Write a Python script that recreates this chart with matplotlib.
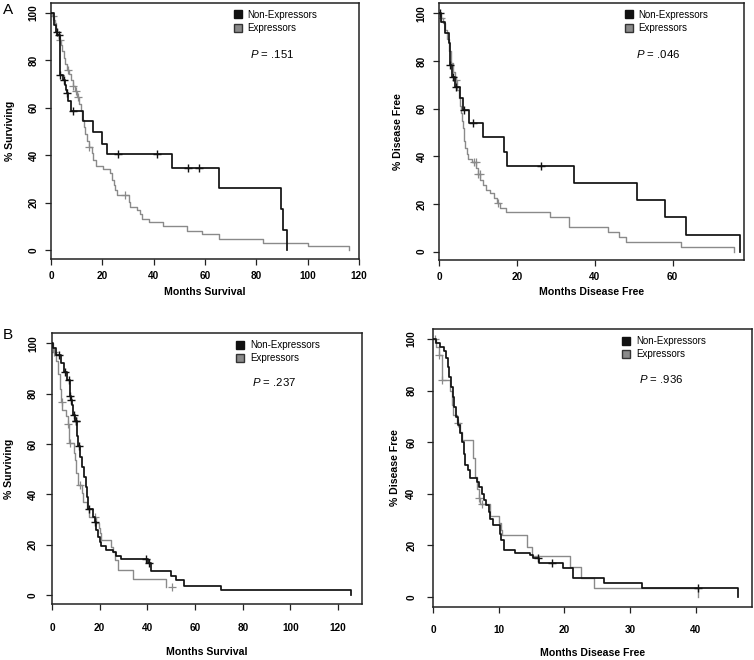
import numpy as np
import matplotlib
matplotlib.use('Agg')
import matplotlib.pyplot as plt
from matplotlib.lines import Line2D

plt.rcParams['font.family'] = ['Liberation Sans', 'DejaVu Sans']
plt.rcParams['mathtext.fontset'] = 'custom'
plt.rcParams['mathtext.rm'] = 'Liberation Sans'
plt.rcParams['mathtext.it'] = 'Liberation Sans:italic'

# ---------------- data ----------------
series_labels = ["Non-Expressors", "Expressors"]
y_ticks = [0, 20, 40, 60, 80, 100]

# Panel A, overall survival
a_os_non_t = [0, 1.0, 1.8, 2.5, 3.4, 4.8, 5.5, 5.9, 6.2, 6.8, 7.8, 12.6, 16.3, 20.0, 22.0, 47.1, 65.4, 89.7, 90.5, 91.9]
a_os_non_s = [100, 95, 92, 90.6, 73.8, 71.7, 69.6, 67.5, 66.3, 63.0, 58.8, 54.5, 49.7, 44.7, 40.5, 34.8, 26.1, 17.4, 8.5, 0]
a_os_non_c = [2.2, 3.0, 3.7, 5.2, 6.3, 8.5, 26.0, 41.2, 53.3, 57.7]
a_os_exp_t = [0, 0.5, 1.0, 1.5, 2.0, 2.5, 3.0, 3.8, 4.3, 5.0, 5.6, 6.3, 7.0, 7.7, 8.5, 9.5, 10.2, 10.8, 11.5,
              12.0, 12.7, 13.3, 14.0, 14.7, 15.8, 16.5, 17.6, 20.4, 23.0, 23.7, 24.4, 25.0, 25.6, 30.2, 30.8,
              33.7, 34.5, 35.4, 38.0, 43.8, 52.9, 58.8, 65.3, 82.6, 100.0, 116.2]
a_os_exp_s = [100, 98.5, 97, 95.5, 93, 91, 88.5, 86.5, 84, 81, 78.5, 76, 74, 71.5, 69, 67, 64.5, 61.5, 58.5,
              55, 52, 49, 46, 43.5, 41, 38, 35.5, 34.3, 32.5, 29.5, 27.5, 25.3, 23.3, 20.5, 18.4,
              17.0, 15.3, 13.3, 11.7, 10.0, 8.2, 6.7, 4.9, 3.1, 1.6, 0]
a_os_exp_c = [0.8, 3.5, 6.8, 8.7, 9.7, 10.6, 14.9, 28.9]

# Panel A, disease free
a_df_non_t = [0, 0.4, 1.6, 2.5, 2.8, 3.4, 4.2, 5.5, 6.2, 7.6, 11.2, 16.7, 17.5, 34.7, 50.8, 57.9, 63.4, 77.2]
a_df_non_s = [100, 96.5, 91.6, 87.4, 78.3, 73.4, 69.2, 64.5, 59.5, 53.8, 48.1, 42.0, 36.0, 28.7, 21.6, 14.4, 7.1, 0]
a_df_non_c = [0.2, 2.9, 3.6, 4.4, 6.3, 8.7, 26.2]
a_df_exp_t = [0, 0.5, 1.0, 1.5, 2.0, 2.5, 3.0, 3.5, 4.2, 4.7, 5.1, 5.4, 5.6, 5.9, 6.1, 6.3, 6.5, 6.8, 7.1, 7.5,
              8.5, 9.5, 10.0, 10.6, 11.2, 12.0, 13.2, 14.1, 14.9, 15.6, 17.1, 28.6, 33.3, 43.4, 46.1, 48.1,
              62.0, 75.8]
a_df_exp_s = [100, 98, 96, 93, 89, 84, 79, 75.5, 72, 68, 64.5, 61, 58, 55, 52, 49, 46.5, 43.5, 41, 39,
              37.5, 35, 32.5, 30, 28, 26, 24.4, 22.3, 20.2, 18.2, 16.8, 14.5, 10.3, 8.4, 6.3, 4.2,
              2.1, 0]
a_df_exp_c = [0.5, 4.3, 9.0, 9.4, 10.0, 10.5, 15.2]

# Panel B, overall survival
b_os_non_t = [0, 0.4, 1.8, 3.9, 4.9, 6.3, 7.4, 7.6, 8.0, 8.5, 8.8, 9.5, 10.4, 10.6, 11.0, 11.9, 12.6, 13.4,
              14.1, 14.8, 15.3, 17.2, 17.9, 18.6, 19.3, 20.0, 20.7, 22.8, 25.6, 27.0, 29.1, 40.3, 41.7,
              50.1, 52.2, 55.4, 70.8, 125.2]
b_os_non_s = [100, 98, 95.4, 92, 88.7, 85.4, 82, 79, 77.5, 75.5, 71.5, 69, 66, 63, 59, 55, 51, 47,
              43, 39, 34, 31, 29, 26, 23.2, 21.2, 19.3, 18, 17.2, 15.5, 14.4, 12.6, 9.7,
              7.5, 6.0, 3.6, 1.8, 0]
b_os_non_c = [2.9, 5.6, 7.0, 7.7, 8.1, 9.1, 9.9, 10.2, 11.2, 15.5, 17.9, 39.6, 40.5]
b_os_exp_t = [0, 0.3, 1.5, 2.5, 3.2, 3.9, 4.2, 5.7, 6.7, 7.0, 7.2, 9.1, 9.5, 10.2, 10.9, 12.6, 13.0, 14.8,
              15.5, 18.6, 19.7, 20.0, 20.7, 24.6, 25.6, 26.3, 27.7, 34.0, 48.0]
b_os_exp_s = [100, 96.5, 93, 88, 82, 76.5, 73.5, 71, 68, 65.5, 60.5, 56.5, 53.5, 48.5, 43.5, 40.5, 37, 34,
              31, 28.5, 26.5, 24.5, 22, 19.2, 17, 14, 10, 6.2, 3.2]
b_os_exp_c = [0.7, 4.0, 6.7, 7.4, 11.6, 17.9, 50.5]

# Panel B, disease free
b_df_non_t = [0, 0.5, 1.1, 1.6, 2.0, 2.3, 2.5, 2.7, 3.0, 3.2, 3.5, 3.8, 4.1, 4.4, 4.7, 4.9, 5.3, 5.7, 6.7,
              7.0, 7.5, 7.7, 8.1, 8.5, 8.7, 9.2, 10.2, 10.4, 10.8, 12.5, 14.8, 15.3, 16.1, 19.8, 21.3, 26.0,
              31.8, 46.5]
b_df_non_s = [100, 98.3, 97, 95.5, 92.5, 89.3, 85.4, 81.5, 77.6, 73.7, 69.9, 66.6, 63.4, 60.2, 55.6, 51.1,
              49.2, 46, 44.6, 42.7, 40.1, 37.5, 35.6, 33, 30.4, 27.8, 24.6, 22, 18.1, 17.1, 16.2, 15.1, 13.2,
              11.4, 7.5, 5.4, 3.6, 0]
b_df_non_c = [16.0, 18.2, 40.3]
b_df_exp_t = [0, 0.4, 0.9, 1.3, 2.6, 2.9, 3.1, 3.6, 4.1, 4.4, 6.1, 6.4, 6.7, 7.0, 7.2, 8.7, 10.0, 10.3, 10.5,
              14.3, 15.1, 20.8, 22.5, 24.5, 40.4]
b_df_exp_s = [100, 97, 94, 84, 80, 74.5, 70.5, 67.3, 64, 60.8, 54, 46.6, 42, 38.5, 36, 31.5, 28.5, 26, 24,
              19.5, 15.8, 11.6, 7.5, 3.6, 0]
b_df_exp_c = [0.3, 0.9, 1.4, 3.8, 7.0, 7.5]

p_values = [".151", ".046", ".237", ".936"]
x_labels = ["Months Survival", "Months Disease Free", "Months Survival", "Months Disease Free"]
y_labels = ["% Surviving", "% Disease Free", "% Surviving", "% Disease Free"]
x_ticks = [[0, 20, 40, 60, 80, 100, 120], [0, 20, 40, 60], [0, 20, 40, 60, 80, 100, 120], [0, 10, 20, 30, 40]]
x_limits = [120, 78.3, 130, 48.6]
panel_letters = ["A", "", "B", ""]

curves = [
    ((a_os_non_t, a_os_non_s, a_os_non_c), (a_os_exp_t, a_os_exp_s, a_os_exp_c)),
    ((a_df_non_t, a_df_non_s, a_df_non_c), (a_df_exp_t, a_df_exp_s, a_df_exp_c)),
    ((b_os_non_t, b_os_non_s, b_os_non_c), (b_os_exp_t, b_os_exp_s, b_os_exp_c)),
    ((b_df_non_t, b_df_non_s, b_df_non_c), (b_df_exp_t, b_df_exp_s, b_df_exp_c)),
]

# ---------------- layout ----------------
W, H = 754, 660
boxes_px = [(51, 3, 359, 259), (439, 3, 744, 260), (52, 333, 362, 604), (433, 329, 752, 607)]
ylims = [(-3.7, 104.1), (-3.5, 104.3), (-3.6, 104.1), (-3.9, 103.9)]
ylabel_off = [36, 36, 38, 33]     # right edge of rotated label, px left of box
xlabel_off = [28, 27, 43, 41]     # top of label, px below box
xtick_pad = [5, 5, 10, 9]
ytick_pad = [5, 5, 6, 8]
leg_x = [0.585, 0.6, 0.585, 0.585]
p_y = [0.80, 0.80, 0.82, 0.82]

colors = ['#111111', '#8a8a8a']
lws = [1.25, 1.0]

fig = plt.figure(figsize=(W / 100, H / 100), dpi=100)


def step_value(t, s, x):
    i = np.searchsorted(np.asarray(t), x, side='right') - 1
    return np.asarray(s)[np.clip(i, 0, len(s) - 1)]


for k in range(4):
    x0, y0, x1, y1 = boxes_px[k]
    ax = fig.add_axes([x0 / W, 1 - y1 / H, (x1 - x0) / W, (y1 - y0) / H])
    for j in (1, 0):
        t, s, c = curves[k][j]
        ax.step(t, s, where='post', color=colors[j], lw=lws[j], zorder=2 + (1 - j))
        ax.plot(c, step_value(t, s, c), linestyle='None', marker='+', color=colors[j],
                markersize=5.5, markeredgewidth=1.0 if j == 0 else 0.9, zorder=2 + (1 - j))
    ax.set_xlim(0, x_limits[k])
    ax.set_ylim(*ylims[k])
    ax.set_xticks(x_ticks[k])
    ax.set_yticks(y_ticks)
    for sp in ax.spines.values():
        sp.set_linewidth(1.1)
        sp.set_color('#222222')
    ax.tick_params(axis='both', direction='out', length=4, width=0.9, labelsize=7.2, color='#222222')
    ax.tick_params(axis='x', pad=xtick_pad[k])
    ax.tick_params(axis='y', pad=ytick_pad[k], labelrotation=90)
    for lab in ax.get_yticklabels():
        lab.set_va('center')
        lab.set_fontweight('bold')
    for lab in ax.get_xticklabels():
        lab.set_fontweight('bold')
    ax.set_xlabel(x_labels[k], fontsize=7.6, fontweight='bold')
    ax.set_ylabel(y_labels[k], fontsize=7.6, fontweight='bold')
    wpx, hpx = x1 - x0, y1 - y0
    ax.xaxis.set_label_coords(0.5, -xlabel_off[k] / hpx)
    ax.yaxis.set_label_coords(-ylabel_off[k] / wpx, 0.5)

    handles = [Line2D([], [], linestyle='None', marker='s', markersize=6, markerfacecolor=colors[0],
                      markeredgecolor='#111111'),
               Line2D([], [], linestyle='None', marker='s', markersize=6, markerfacecolor=colors[1],
                      markeredgecolor='#333333')]
    ax.legend(handles, series_labels, loc='upper left', frameon=False, fontsize=7.0,
              bbox_to_anchor=(leg_x[k], 0.985), borderpad=0.3, borderaxespad=0,
              handlelength=0.8, handletextpad=0.6, labelspacing=0.35)
    ax.text(0.645, p_y[k], r"$P$ = " + p_values[k], transform=ax.transAxes,
            fontsize=8.2, ha='left', va='center')
    if panel_letters[k]:
        fig.text(8 / W, 1 - (10 if k == 0 else 335) / H, panel_letters[k], fontsize=11,
                 ha='center', va='center')

fig.savefig('out.png', dpi=100)
